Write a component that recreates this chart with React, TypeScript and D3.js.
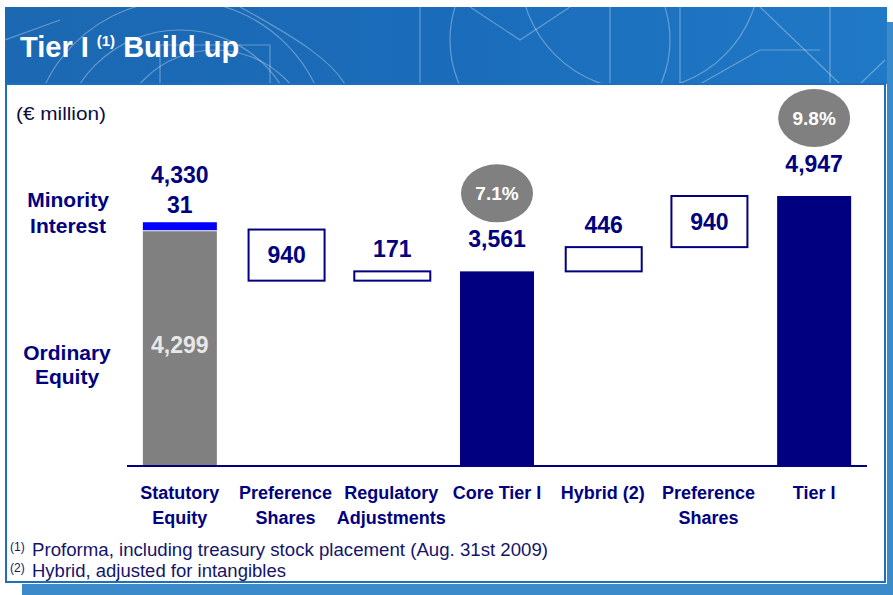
import React from "react";
import * as d3 from "d3";

const categories: string[][] = [
  ["Statutory", "Equity"],
  ["Preference", "Shares"],
  ["Regulatory", "Adjustments"],
  ["Core Tier I"],
  ["Hybrid (2)"],
  ["Preference", "Shares"],
  ["Tier I"],
];
const stepValues = [4330, -940, 171, 3561, 446, 940, 4947];
const stepKinds = ["total", "delta", "delta", "total", "delta", "delta", "total"];
const stepLabels = ["4,330", "940", "171", "3,561", "446", "940", "4,947"];
const ratioLabels = [null, null, null, "7.1%", null, null, "9.8%"];
const ordinaryEquity = 4299;
const minorityInterest = 31;
const footnotes = [
  ["(1)", "Proforma, including treasury stock placement (Aug. 31st 2009)"],
  ["(2)", "Hybrid, adjusted for intangibles"],
];
const footnoteWidths = [516, 254];

const W = 893;
const H = 595;
const FONT = "'Liberation Sans', Arial, Helvetica, sans-serif";
const NAVY = "#000080";

export default function App() {
  const x = d3
    .scaleBand<number>()
    .domain(categories.map((_, i) => i))
    .range([127, 867])
    .paddingInner(0.3)
    .paddingOuter(0.15);
  const y = d3.scaleLinear().domain([0, 4947]).range([465, 196]);

  let running = 0;
  const steps = stepValues.map((v, i) => {
    let lo: number, hi: number;
    if (stepKinds[i] === "total") {
      lo = 0;
      hi = v;
      running = v;
    } else {
      const next = running + v;
      lo = Math.min(running, next);
      hi = Math.max(running, next);
      running = next;
    }
    return { i, lo, hi, kind: stepKinds[i], label: stepLabels[i], ratio: ratioLabels[i] };
  });

  const bw = x.bandwidth();

  return (
    <svg width={W} height={H} style={{ position: "absolute", left: 0, top: 0 }} fontFamily={FONT}>
      <defs>
        <clipPath id="bannerClip">
          <rect x={5} y={7} width={882} height={77} />
        </clipPath>
        <linearGradient id="bannerGrad" x1="0" x2="1" y1="0" y2="0">
          <stop offset="0" stopColor="#1c68b2" />
          <stop offset="0.5" stopColor="#1a6cba" />
          <stop offset="1" stopColor="#2079c6" />
        </linearGradient>
      </defs>
      <rect x={0} y={0} width={W} height={H} fill="#ffffff" />
      {/* shadow */}
      <rect x={22} y={584} width={871} height={11} fill="#3b8bca" />
      <rect x={887} y={22} width={6} height={573} fill="#3b8bca" />
      {/* banner */}
      <rect x={5} y={7} width={882} height={77} fill="url(#bannerGrad)" />
      <g clipPath="url(#bannerClip)" fill="none" stroke="#ffffff" strokeOpacity={0.32} strokeWidth={1.2}>
        <circle cx={180} cy={150} r={150} />
        <circle cx={180} cy={150} r={120} />
        <circle cx={215} cy={150} r={100} />
        <path d="M5,40 L60,20" />
        <path d="M160,84 L160,45 L270,45 L270,84" />
        <path d="M420,7 L420,84" />
        <path d="M240,7 C300,40 330,60 345,84" />
        <circle cx={560} cy={40} r={110} />
        <circle cx={640} cy={-30} r={120} />
        <path d="M470,7 L520,40 L570,7" />
        <path d="M610,7 L610,84" />
        <path d="M680,7 L680,84" />
        <path d="M700,84 L760,50 L820,50" />
        <path d="M830,7 L830,84" />
        <path d="M760,7 L840,84" />
        <path d="M860,84 L885,60" />
      </g>
      <text x={20} y={57} fill="#ffffff" fontSize={29} fontWeight="bold">
        Tier I
        <tspan fontSize={15} dy={-11} dx={8}>(1)</tspan>
        <tspan dy={11} dx={8}>Build up</tspan>
      </text>
      {/* white panel */}
      <rect x={6} y={84} width={879} height={498} fill="#ffffff" stroke="#1f6fbf" strokeWidth={2} />
      <text x={16} y={120} fill="#0d0d45" fontSize={19} textLength={90} lengthAdjust="spacingAndGlyphs">(€ million)</text>

      {/* left side labels */}
      <g fill={NAVY} fontSize={21} fontWeight="bold" textAnchor="middle">
        <text x={68} y={207}>Minority</text>
        <text x={68} y={233}>Interest</text>
        <text x={67} y={360}>Ordinary</text>
        <text x={67} y={384}>Equity</text>
      </g>

      {/* bars */}
      {steps.map((s) => {
        const x0 = x(s.i)!;
        const cx = x0 + bw / 2;
        const top = y(s.hi);
        const bot = y(s.lo);
        if (s.i === 0) {
          const eqTop = y(ordinaryEquity);
          const miH = Math.max(y(ordinaryEquity) - y(ordinaryEquity + minorityInterest), 8);
          const miTop = eqTop - 1 - miH;
          return (
            <g key={s.i}>
              <rect x={x0} y={eqTop} width={bw} height={y(0) - eqTop} fill="#808080" />
              <rect x={x0} y={miTop} width={bw} height={miH} fill="#0000ff" />
              <text x={cx} y={(eqTop + y(0)) / 2 - 3} fill="#e8e8e8" fontSize={23} fontWeight="bold" textAnchor="middle" dominantBaseline="central">
                {ordinaryEquity.toLocaleString("en-US")}
              </text>
              <text x={cx} y={miTop - 17} fill={NAVY} fontSize={23} fontWeight="bold" textAnchor="middle" dominantBaseline="central">
                {minorityInterest}
              </text>
              <text x={cx} y={miTop - 47} fill={NAVY} fontSize={23} fontWeight="bold" textAnchor="middle" dominantBaseline="central">
                {s.label}
              </text>
            </g>
          );
        }
        if (s.kind === "total") {
          return (
            <g key={s.i}>
              <rect x={x0} y={top} width={bw} height={bot - top} fill={NAVY} />
              <text x={cx} y={top - 32} fill={NAVY} fontSize={23} fontWeight="bold" textAnchor="middle" dominantBaseline="central">
                {s.label}
              </text>
              {s.ratio && (
                <g>
                  <ellipse cx={cx} cy={top - 78} rx={36} ry={29} fill="#808080" />
                  <text x={cx} y={top - 78} fill="#ffffff" fontSize={19} fontWeight="bold" textAnchor="middle" dominantBaseline="central">
                    {s.ratio}
                  </text>
                </g>
              )}
            </g>
          );
        }
        const inside = bot - top > 40;
        return (
          <g key={s.i}>
            <rect x={x0} y={top} width={bw + 2} height={bot - top} fill="#ffffff" stroke={NAVY} strokeWidth={2} />
            <text
              x={cx + 1}
              y={inside ? (top + bot) / 2 : top - 22}
              fill={NAVY}
              fontSize={23}
              fontWeight="bold"
              textAnchor="middle"
              dominantBaseline="central"
            >
              {s.label}
            </text>
          </g>
        );
      })}

      {/* baseline */}
      <line x1={x.range()[0]} x2={x.range()[1]} y1={y(0) + 1} y2={y(0) + 1} stroke={NAVY} strokeWidth={2} />

      {/* category labels */}
      <g fill={NAVY} fontSize={18} fontWeight="bold" textAnchor="middle">
        {categories.map((lines, i) => (
          <text key={i} x={x(i)! + bw / 2} y={499}>
            {lines.map((l, j) => (
              <tspan key={j} x={x(i)! + bw / 2} dy={j === 0 ? 0 : 25}>
                {l}
              </tspan>
            ))}
          </text>
        ))}
      </g>

      {/* footnotes */}
      <g fill="#14146a">
        {footnotes.map(([sup, txt], i) => (
          <g key={i}>
            <text x={10} y={551 + i * 21} fontSize={12}>{sup}</text>
            <text x={32} y={556 + i * 21} fontSize={17.5} textLength={footnoteWidths[i]} lengthAdjust="spacingAndGlyphs">
              {txt}
            </text>
          </g>
        ))}
      </g>
    </svg>
  );
}
